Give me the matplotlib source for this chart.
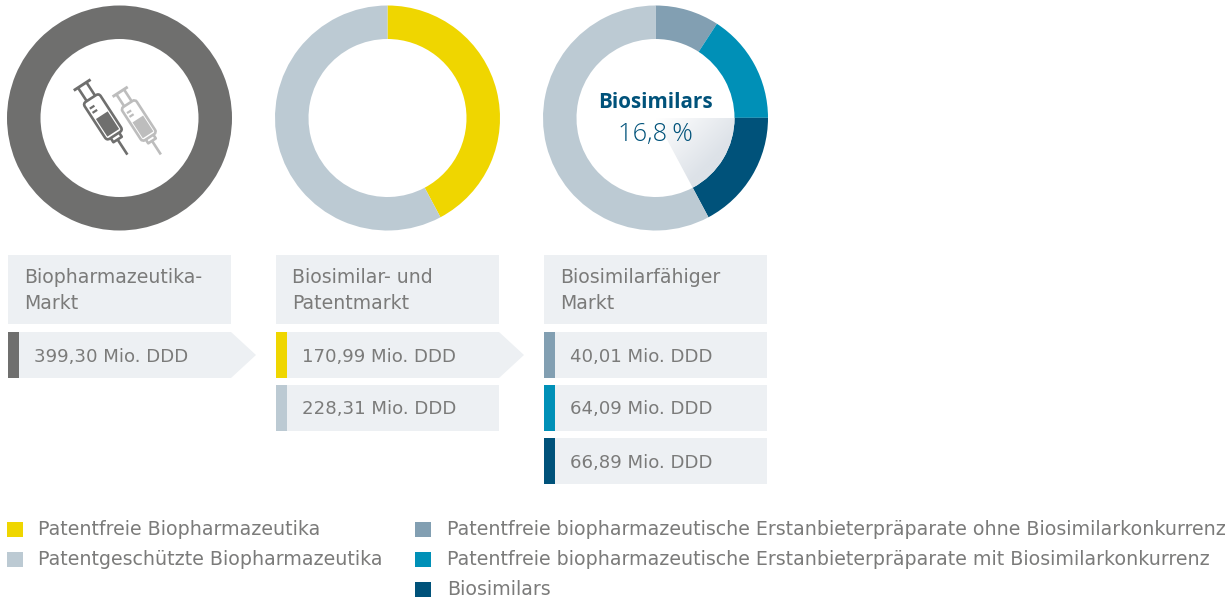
import numpy as np
import matplotlib
matplotlib.use("Agg")
import matplotlib.pyplot as plt
from matplotlib.patches import Rectangle, Polygon, Wedge, FancyBboxPatch
from matplotlib.transforms import Affine2D

plt.rcParams['font.family'] = ['DejaVu Sans']

W, H = 1232, 598
GREY, YELLOW, LIGHT = '#6f6f6e', '#efd600', '#bccad3'
STEEL, TEAL, NAVY = '#829fb2', '#0090b7', '#00527a'
PANEL, TXT = '#edf0f3', '#7b7b7a'

donut1_values = [399.30]
donut2_values = [168.5, 230.8]              # shares as drawn in the picture
donut3_values = [36.7, 63.0, 68.8, 230.8]   # shares as drawn in the picture
donut1_colors = [GREY]
donut2_colors = [YELLOW, LIGHT]
donut3_colors = [STEEL, TEAL, NAVY, LIGHT]
headers = ['Biopharmazeutika-\nMarkt', 'Biosimilar- und\nPatentmarkt', 'Biosimilarfähiger\nMarkt']
col1_labels = ['399,30 Mio. DDD']
col2_labels = ['170,99 Mio. DDD', '228,31 Mio. DDD']
col3_labels = ['40,01 Mio. DDD', '64,09 Mio. DDD', '66,89 Mio. DDD']
legend_left = ['Patentfreie Biopharmazeutika', 'Patentgeschützte Biopharmazeutika']
legend_right = ['Patentfreie biopharmazeutische Erstanbieterpräparate ohne Biosimilarkonkurrenz',
                'Patentfreie biopharmazeutische Erstanbieterpräparate mit Biosimilarkonkurrenz',
                'Biosimilars']

fig = plt.figure(figsize=(W/100, H/100), dpi=100, facecolor='white')
ax = fig.add_axes([0, 0, 1, 1])
ax.set_xlim(0, W); ax.set_ylim(H, 0); ax.axis('off')

R, r = 112.5, 79
CY = 118
def donut(cx, vals, cols):
    a = fig.add_axes([(cx-R-1)/W, 1-(CY+R+1)/H, (2*R+2)/W, (2*R+2)/H])
    a.pie(vals, colors=cols, startangle=90, counterclock=False, radius=R,
          wedgeprops=dict(width=R-r, linewidth=0))
    a.set_xlim(-R-1, R+1); a.set_ylim(-R-1, R+1); a.set_aspect('equal'); a.axis('off')
    return a
donut(119.5, donut1_values, donut1_colors)
donut(387.5, donut2_values, donut2_colors)
a3 = donut(655.5, donut3_values, donut3_colors)

# soft gradient wedge in the third donut's hole
end_angle = 90 - 360*sum(donut3_values[:3])/sum(donut3_values)
wedge = Wedge((0, 0), r, end_angle, 0, linewidth=0, facecolor='none', transform=a3.transData)
a3.add_patch(wedge)
xx, yy = np.meshgrid(np.linspace(0, r, 100), np.linspace(-r, 0, 100))
grad = np.clip((xx - yy) / (1.25*r), 0, 1)
c0, c1 = np.array([1, 1, 1.]), np.array(matplotlib.colors.to_rgb('#dde2e8'))
img = c0 + (c1-c0)*grad[..., None]
im = a3.imshow(img, extent=(0, r, -r, 0), origin='lower', zorder=1, interpolation='bilinear')
im.set_clip_path(wedge)
a3.set_xlim(-R-1, R+1); a3.set_ylim(-R-1, R+1)
a3.text(0, 15.5, 'Biosimilars', ha='center', va='center', color=NAVY, fontsize=14.9,
        fontweight='bold', family='Open Sans', zorder=3)
a3.text(0, -16, '16,8\u2009%', ha='center', va='center', color=NAVY, fontsize=18.3,
        fontweight='light', family='Open Sans', zorder=3)

# syringe icon
def syringe(cx, cy, col, lw, s=1.0):
    t = Affine2D().scale(s).rotate_deg(-33).translate(cx, cy) + ax.transData
    def line(xs, ys, lw_=lw):
        ax.plot(xs, ys, color=col, lw=lw_, transform=t, solid_capstyle='butt')
    ax.add_patch(FancyBboxPatch((-9.5, -20), 19, 44, boxstyle='round,pad=0,rounding_size=3.5',
                                fc='none', ec=col, lw=lw, transform=t))
    ax.add_patch(Rectangle((-7, 0), 14, 21, fc=col, ec='none', transform=t))
    line([-10, 10], [-36, -36], lw*1.1)
    line([-5, -5], [-36, -20]); line([5, 5], [-36, -20])
    line([-5, -5, 5, 5], [24, 29, 29, 24])
    line([0, 0], [29, 47])
    line([-6.5, -1], [-12, -12], lw*.85); line([-6.5, -1], [-7, -7], lw*.85)
syringe(101.8, 115.2, GREY, 1.9)
syringe(137.8, 119, '#bdbdbd', 1.9, 0.9)

# panels
def pent(x, y, w, h, tip):
    ax.add_patch(Polygon([(x, y), (x+w, y), (x+w+tip, y+h/2), (x+w, y+h), (x, y+h)],
                         fc=PANEL, ec='none'))
FS_HEAD, FS_ROW, FS_LEG = 13.6, 13.05, 13.7
for x, head in zip([8, 276, 544], headers):
    ax.add_patch(Rectangle((x, 255), 223, 69, fc=PANEL, ec='none'))
    ax.text(x+16, 290.5, head, color=TXT, fontsize=FS_HEAD, va='center', linespacing=1.5)

def row(x, y, h, col, label, arrow=False):
    if arrow:
        pent(x, y, 223, h, 25)
    else:
        ax.add_patch(Rectangle((x, y), 223, h, fc=PANEL, ec='none'))
    ax.add_patch(Rectangle((x, y), 11, h, fc=col, ec='none'))
    ax.text(x+26, y+h/2+1.5, label, color=TXT, fontsize=FS_ROW, va='center')

row(8, 332, 46, GREY, col1_labels[0], True)
row(276, 332, 46, YELLOW, col2_labels[0], True)
row(276, 385, 46, LIGHT, col2_labels[1])
for y, c, l in zip([332, 385, 438], [STEEL, TEAL, NAVY], col3_labels):
    row(544, y, 46, c, l)

# legend
for y, c, l in zip([529, 559], [YELLOW, LIGHT], legend_left):
    ax.add_patch(Rectangle((7, y-7.5), 16, 15, fc=c, ec='none'))
    ax.text(38, y+0.5, l, color=TXT, fontsize=FS_LEG, va='center')
for y, c, l in zip([529, 559, 589], [STEEL, TEAL, NAVY], legend_right):
    ax.add_patch(Rectangle((415, y-7.5), 16, 15, fc=c, ec='none'))
    ax.text(447, y+0.5, l, color=TXT, fontsize=FS_LEG, va='center')

fig.savefig('out.png', dpi=100, facecolor='white')
